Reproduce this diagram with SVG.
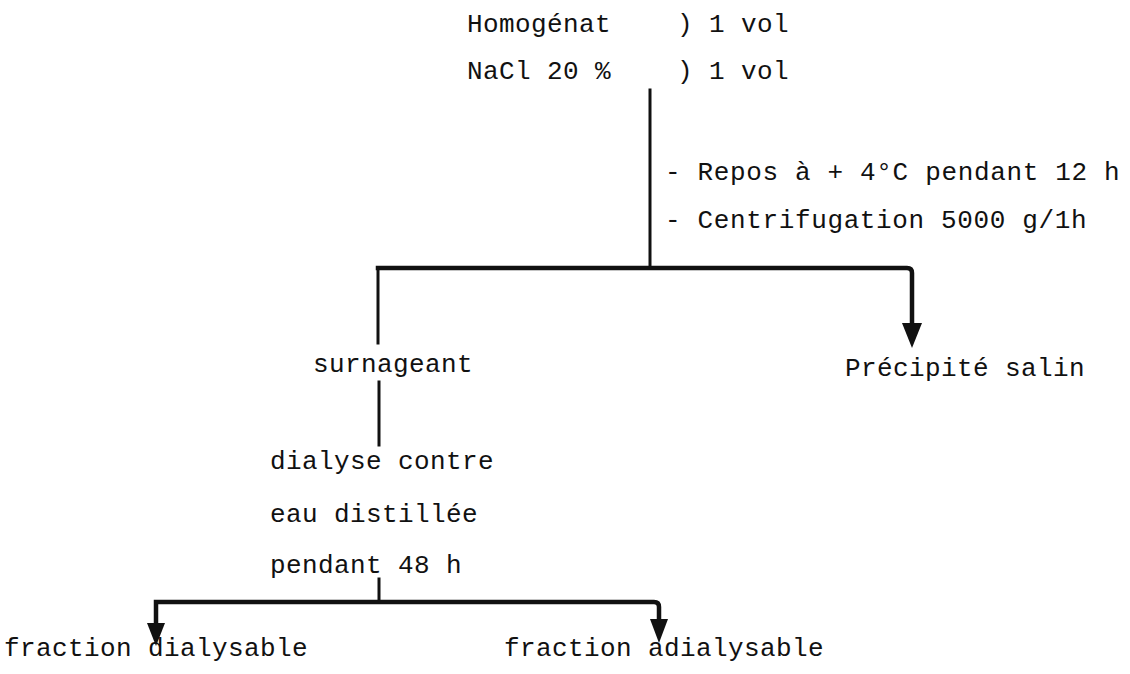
<svg xmlns="http://www.w3.org/2000/svg" width="1130" height="674" viewBox="0 0 1130 674">
<style>
  text { font-family: "Liberation Mono", "Courier New", monospace; font-size: 26px; letter-spacing: 0.4px; fill: #111; }
  .ln { stroke: #111; fill: none; stroke-linecap: square; }
  .thin { stroke-width: 3; }
  .thick { stroke-width: 4.5; }
  .ah { fill: #111; }
</style>
<rect width="1130" height="674" fill="#ffffff"/>
<g id="connectors">
  <line class="ln thin" x1="650" y1="90" x2="650" y2="268"/>
  <path class="ln thick" d="M378,268 H907 Q912,268 912,273 V326"/>
  <line class="ln thin" x1="378" y1="268" x2="378" y2="343"/>
  <polygon class="ah" points="902,323 922,323 912,348"/>
  <line class="ln thin" x1="379" y1="382" x2="379" y2="445"/>
  <line class="ln thin" x1="379" y1="579" x2="379" y2="602"/>
  <path class="ln thick" d="M156,624 V602 H654 Q659,602 659,607 V620"/>
  <polygon class="ah" points="147,623 165,623 156,646"/>
  <polygon class="ah" points="650,619 668,619 659,643"/>
</g>
<g id="homogenat">
  <text x="467" y="32">Homogénat</text>
  <text x="677" y="32">) 1 vol</text>
</g>
<g id="nacl">
  <text x="467" y="79">NaCl 20 %</text>
  <text x="677" y="79">) 1 vol</text>
</g>
<g id="conditions">
  <text x="665" y="180" textLength="455" lengthAdjust="spacing">- Repos à + 4°C pendant 12 h</text>
  <text x="665" y="228" textLength="422" lengthAdjust="spacing">- Centrifugation 5000 g/1h</text>
</g>
<g id="surnageant">
  <text x="313" y="372">surnageant</text>
</g>
<g id="precipite">
  <text x="845" y="376">Précipité salin</text>
</g>
<g id="dialyse">
  <text x="270" y="469">dialyse contre</text>
  <text x="270" y="522">eau distillée</text>
  <text x="270" y="573">pendant 48 h</text>
</g>
<g id="fraction-dialysable">
  <text x="4" y="656">fraction dialysable</text>
</g>
<g id="fraction-adialysable">
  <text x="504" y="656">fraction adialysable</text>
</g>
</svg>
